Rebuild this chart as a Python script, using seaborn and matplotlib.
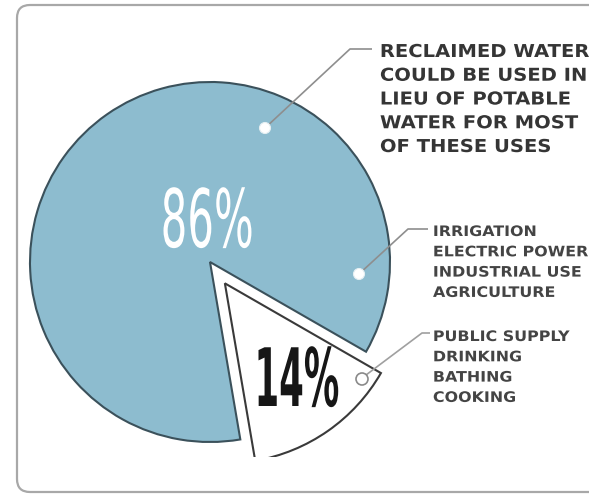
import matplotlib
matplotlib.use("Agg")
import matplotlib.pyplot as plt
import seaborn as sns
from matplotlib import patheffects
from matplotlib.transforms import Affine2D
from matplotlib.patches import FancyBboxPatch, Circle

# ---------------- data ----------------
shares = [14, 86]                      # potable-only uses, reclaimable uses
share_labels = ["14%", "86%"]
reclaimed_note = ["RECLAIMED WATER", "COULD BE USED IN", "LIEU OF POTABLE",
                  "WATER FOR MOST", "OF THESE USES"]
nonpotable_uses = ["IRRIGATION", "ELECTRIC POWER", "INDUSTRIAL USE", "AGRICULTURE"]
potable_uses = ["PUBLIC SUPPLY", "DRINKING", "BATHING", "COOKING"]

# ---------------- style ----------------
W, H = 589, 494
BLUE = "#8dbccf"
EDGE = "#3b515b"
TXT = "#353535"
LEAD = "#8e8e8e"

sns.set_theme(style="white")
plt.rcParams["font.family"] = ["DejaVu Sans"]


class Stretch(patheffects.AbstractPathEffect):
    """Scale a text's glyph outline horizontally (text stays a real Text)."""

    def __init__(self, sx, anchor="center"):
        super().__init__()
        self.sx = sx
        self.anchor = anchor

    def draw_path(self, renderer, gc, tpath, affine, rgbFace=None):
        bb = tpath.get_extents(affine)
        ax0 = bb.x0 if self.anchor == "left" else 0.5 * (bb.x0 + bb.x1)
        t = affine + Affine2D().translate(-ax0, 0).scale(self.sx, 1).translate(ax0, 0)
        renderer.draw_path(gc, tpath, t, rgbFace)


fig = plt.figure(figsize=(W / 100, H / 100), dpi=100)
fig.patch.set_facecolor("white")

# background frame (image pixel coordinates)
ax_bg = fig.add_axes([0, 0, 1, 1])
ax_bg.set_xlim(0, W)
ax_bg.set_ylim(H, 0)
ax_bg.axis("off")
ax_bg.add_patch(FancyBboxPatch((17, 5), 700, 487,
                               boxstyle="round,pad=0,rounding_size=13",
                               fc="white", ec="#a8a8a8", lw=1.6))

# pie axes, clipped at the bottom like the source
cut = 457
ax = fig.add_axes([0, (H - cut) / H, 1, cut / H])
ax.patch.set_alpha(0)
wedges, _ = ax.pie(shares, colors=["white", BLUE], startangle=-80.3,
                   explode=[26, 0], center=(210, H - 262), radius=180,
                   wedgeprops=dict(edgecolor=EDGE, linewidth=1.5, clip_on=True))
wedges[0].set_edgecolor("#3a3a3a")
ax.set_xlim(0, W)
ax.set_ylim(H - cut, H)
ax.set_aspect("auto")
ax.axis("off")

# overlay (image pixel coordinates)
ov = fig.add_axes([0, 0, 1, 1])
ov.set_xlim(0, W)
ov.set_ylim(H, 0)
ov.axis("off")
ov.patch.set_alpha(0)

# percentage labels
ov.text(207, 225, share_labels[1], fontsize=58, fontweight="normal", color="white",
        ha="center", va="center", path_effects=[Stretch(0.52)])
ov.text(295, 384, share_labels[0], fontsize=58, fontweight="bold", color="#161616",
        ha="center", va="center", path_effects=[Stretch(0.44)])

# leader lines and dots
ov.plot([265, 350, 372], [128, 49, 49], color=LEAD, lw=1.2, solid_capstyle="butt")
ov.plot([359, 408, 428], [274, 229, 229], color=LEAD, lw=1.2, solid_capstyle="butt")
ov.plot([366, 422, 430], [375, 333, 333], color="#a0a0a0", lw=1.2, solid_capstyle="butt")
ov.add_patch(Circle((265, 128), 5.5, fc="white", ec="#e4eef2", lw=0.8, zorder=5))
ov.add_patch(Circle((359, 274), 5.5, fc="white", ec="#e4eef2", lw=0.8, zorder=5))
ov.add_patch(Circle((362, 379), 6.0, fc="white", ec="#8a8a8a", lw=1.2, zorder=5))

# text blocks
for i, line in enumerate(reclaimed_note):
    ov.text(380, 57 + i * 23.75, line, fontsize=12.8, fontweight="bold", color=TXT,
            ha="left", va="baseline", path_effects=[Stretch(1.1, "left")])
for i, line in enumerate(nonpotable_uses):
    ov.text(433, 236 + i * 20.3, line, fontsize=10.4, fontweight="bold", color="#444444",
            ha="left", va="baseline", path_effects=[Stretch(1.1, "left")])
for i, line in enumerate(potable_uses):
    ov.text(433, 341 + i * 20.3, line, fontsize=10.4, fontweight="bold", color="#444444",
            ha="left", va="baseline", path_effects=[Stretch(1.1, "left")])

fig.savefig("out.png", dpi=100, facecolor="white")
